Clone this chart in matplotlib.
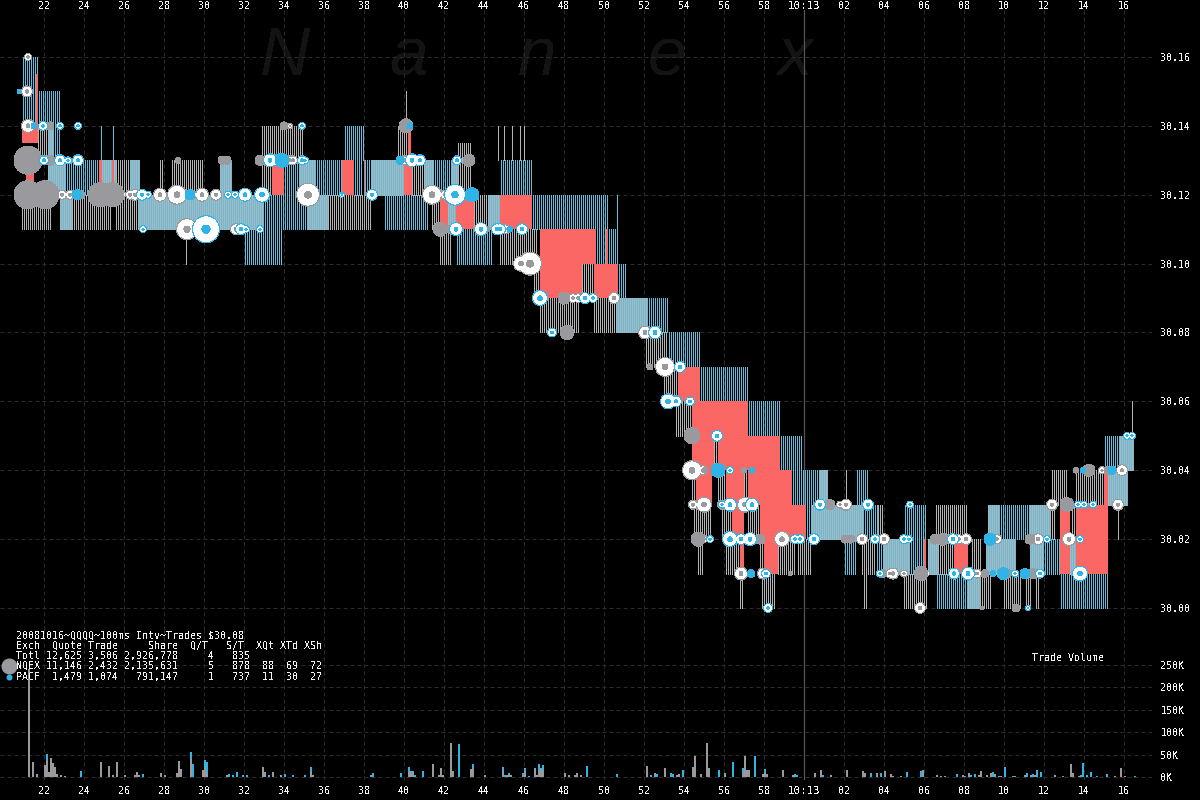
import matplotlib
matplotlib.use("Agg")
import matplotlib.pyplot as plt
import numpy as np

plt.rcParams["font.family"] = "DejaVu Sans Mono"
plt.rcParams["font.size"] = 7.2
plt.rcParams["text.antialiased"] = False

# quote bands: (second start, second end, low, high), price in cents above 30.00
gray_bands = [
    (20.9, 22.45, 11, 12), (21.7, 22.2, 13, 14), (23.45, 25.45, 11, 12), (25.55, 26.7, 11, 12),
    (25.5, 26.3, 12, 13), (28.45, 29.95, 12, 13), (27.8, 27.95, 12, 13), (32.9, 33.4, 12, 13),
    (32.9, 35.0, 13, 14), (36.15, 38.45, 11, 12), (39.7, 40.45, 13, 14), (40.4, 41.05, 12, 13),
    (42.7, 43.4, 12, 13.5), (41.4, 41.8, 11, 12), (41.8, 42.45, 10, 11), (43.5, 44.2, 11, 12),
    (44.8, 46.7, 10, 11), (48.9, 49.5, 9, 10), (46.5, 46.8, 9, 10), (46.8, 48.85, 8, 9),
    (49.5, 50.6, 8, 9), (52.1, 53.15, 7, 8), (53.0, 53.7, 6, 7), (53.6, 54.4, 5, 6),
    (54.4, 54.6, 3, 4), (55.7, 56.1, 3, 4), (57.0, 57.2, 3, 4), (55.5, 55.7, 4, 5),
    (54.5, 55.35, 2, 3), (55.9, 56.4, 2, 3), (57.2, 57.8, 2, 3), (54.7, 55.05, 1, 2),
    (56.1, 56.8, 1, 2), (57.8, 58.0, 1, 2), (58.7, 59.55, 1, 2), (59.7, 60.45, 1, 2),
    (56.8, 56.95, 0, 1), (57.9, 58.65, 0, 1), (62.1, 62.25, 3, 4), (63.7, 64.05, 2, 3),
    (62.9, 63.65, 1, 2), (63.0, 63.25, 0, 1), (65.0, 66.25, 0, 1), (66.6, 68.15, 2, 3),
    (66.7, 67.5, 1, 2), (68.4, 68.9, 1, 2), (68.8, 69.35, 0, 1), (70.0, 70.9, 0, 1),
    (71.1, 71.35, 0, 1), (71.6, 71.85, 0, 1), (72.3, 72.65, 2, 3), (73.35, 73.6, 2, 3),
    (72.4, 73.25, 3, 4), (73.6, 75.0, 3, 4), (29.1, 29.2, 10, 11), (75.7, 75.8, 2, 3),
    (76.4, 76.5, 5, 6), (40.1, 40.2, 14, 15), (44.7, 44.8, 13, 14), (45.0, 45.1, 13, 14),
    (45.4, 45.5, 13, 14), (45.8, 45.9, 13, 14), (46.0, 46.1, 13, 14),
]
blue_bands = [
    (20.9, 21.7, 14, 16), (21.7, 22.8, 14, 15), (22.3, 22.8, 13, 14), (23.1, 25.0, 12, 13),
    (24.8, 24.9, 13, 14), (25.4, 25.5, 13, 14), (33.0, 35.2, 11, 12), (32.05, 33.9, 10, 11),
    (33.95, 34.8, 12, 13), (35.65, 36.9, 12, 13), (37.5, 37.9, 12, 13), (38.05, 38.35, 12, 13),
    (41.5, 42.4, 12, 13), (36.95, 38.0, 13, 14), (39.05, 41.2, 11, 12), (42.65, 44.4, 10, 11),
    (44.75, 46.4, 12, 13), (46.4, 50.2, 11, 12), (50.6, 50.7, 11, 12), (49.6, 50.1, 10, 11),
    (50.2, 50.7, 10, 11), (50.7, 51.1, 9, 10), (52.2, 53.2, 8, 9), (53.15, 54.8, 7, 8),
    (54.8, 57.2, 6, 7), (57.2, 58.8, 5, 6), (58.8, 59.9, 4, 5), (59.4, 60.75, 3, 4),
    (60.1, 60.4, 2, 3), (62.05, 62.6, 1, 2), (62.65, 63.2, 3, 4), (62.95, 63.7, 2, 3),
    (63.65, 63.95, 1, 2), (64.95, 66.1, 2, 3), (65.3, 65.95, 1, 2), (66.65, 68.15, 0, 1),
    (69.8, 71.3, 2, 3), (72.0, 72.75, 1, 2), (72.75, 75.2, 0, 1), (75.0, 75.8, 4, 5),
]
mixed_bands = [
    (22.2, 22.5, 13, 14), (22.2, 23.1, 12, 13), (22.8, 23.4, 11, 12), (24.8, 25.55, 12, 13),
    (25.55, 25.6, 11, 12), (26.3, 26.8, 12, 13), (26.7, 31.2, 11, 12), (31.2, 33.0, 11, 12),
    (30.8, 31.45, 12, 13), (34.8, 35.65, 12, 13), (35.2, 36.15, 11, 12), (38.35, 40.0, 12, 13),
    (41.05, 41.5, 12, 13), (42.4, 42.7, 12, 13), (42.2, 42.6, 11, 12), (44.2, 44.8, 11, 12),
    (50.6, 52.2, 8, 9), (60.75, 61.25, 3, 4), (60.4, 63.0, 2, 3), (64.0, 65.3, 1, 2),
    (66.15, 66.7, 1, 2), (68.15, 68.8, 0, 1), (69.1, 70.55, 1, 2), (69.25, 69.8, 2, 3),
    (71.3, 72.3, 2, 3), (71.3, 72.0, 1, 2), (73.3, 73.6, 1, 2), (75.2, 76.2, 3, 4),
    (75.85, 76.5, 4, 5), (64.15, 64.25, 0, 1),
]
crossed_bands = [
    (21.6, 21.7, 14, 15.5), (20.9, 21.7, 13.5, 14), (21.1, 21.5, 12, 13), (24.75, 24.9, 12, 13),
    (25.4, 25.5, 12, 13), (33.4, 34.0, 12, 13), (36.9, 37.5, 12, 13), (38.0, 38.05, 12, 13),
    (40.0, 40.4, 12, 13), (40.2, 40.35, 13, 14), (41.8, 42.2, 11, 12), (42.6, 43.5, 11, 12),
    (44.8, 46.4, 11, 12), (46.8, 49.6, 10, 11), (50.1, 50.2, 10, 11), (46.8, 48.9, 9, 10),
    (49.5, 50.7, 9, 10), (53.7, 54.8, 6, 7), (54.4, 57.2, 5, 6), (54.4, 55.5, 4, 5),
    (55.7, 58.8, 4, 5), (54.6, 55.4, 3, 4), (56.1, 57.0, 3, 4), (57.2, 59.4, 3, 4),
    (56.4, 57.0, 2, 3), (57.8, 60.1, 2, 3), (56.8, 57.0, 1, 2), (58.0, 58.7, 1, 2),
    (66.0, 66.1, 1, 2), (67.5, 68.2, 1, 2), (72.8, 73.3, 2, 3), (73.6, 75.2, 2, 3),
    (75.0, 75.2, 3, 4), (72.8, 73.3, 1, 2), (73.6, 75.2, 1, 2),
]

# trades: (second, cents above 30.00, bubble radius in pixels)
gray_solid = [
    (21.2, 13, 14), (21.2, 12, 14), (22.05, 12, 14), (22.3, 14, 4), (22.3, 13, 5), (23.85, 12, 4),
    (24.8, 12, 12), (25.4, 12, 12), (28.7, 13, 3), (30.9, 13, 4), (31.15, 13, 4), (32.8, 13, 5),
    (34.0, 14, 4), (40.1, 14, 7), (43.25, 13, 6), (41.8, 11, 7), (42.3, 11, 4), (44.15, 11, 3),
    (48.0, 9, 6), (48.15, 8, 7), (52.3, 7, 3), (54.4, 5, 8), (55.05, 4, 3), (57.0, 4, 3),
    (54.7, 2, 7), (57.8, 2, 5), (59.3, 1, 2), (61.3, 3, 5), (62.05, 2, 4), (62.35, 2, 4),
    (63.95, 1, 4), (66.55, 2, 5), (66.95, 2, 6), (65.85, 1, 7), (69.05, 1, 4), (70.1, 1, 5),
    (71.45, 1, 5), (68.9, 0, 2), (70.6, 0, 4), (73.15, 3, 7), (73.6, 4, 3), (74.25, 4, 6),
    (75.2, 4, 4), (71.3, 2, 5),
]
gray_ring = [
    (21.2, 16, 3), (21.15, 15, 5), (21.2, 14, 6), (22.55, 12, 5), (22.9, 12, 4), (23.3, 12, 4),
    (25.9, 12, 3), (26.3, 12, 4), (26.55, 12, 5), (27.8, 12, 6), (28.65, 12, 9), (29.45, 12, 3),
    (29.9, 12, 6), (30.6, 12, 5), (34.3, 13, 4), (34.45, 13, 4), (34.3, 14, 2), (29.15, 11, 10),
    (31.6, 11, 5), (35.2, 12, 11), (40.05, 13, 4), (41.4, 12, 9), (42.05, 12, 4), (45.05, 11, 4),
    (45.85, 10, 7), (46.3, 10, 11), (48.45, 9, 4), (48.7, 9, 4), (50.5, 9, 5), (52.05, 8, 6),
    (53.05, 7, 9), (54.4, 4, 9), (54.95, 4, 4), (54.45, 3, 4), (55.0, 3, 7), (55.9, 3, 4),
    (57.05, 3, 7), (55.0, 2, 3), (58.9, 2, 7), (56.85, 1, 6), (57.95, 1, 5), (61.8, 3, 3),
    (62.1, 3, 5), (62.9, 2, 5), (64.0, 2, 5), (67.75, 2, 4), (68.1, 2, 5), (64.3, 1, 4),
    (64.45, 1, 5), (65.0, 1, 3), (66.15, 1, 2), (68.65, 1, 4), (65.8, 0, 5), (69.65, 2, 4),
    (71.7, 2, 5), (73.25, 2, 6), (72.4, 3, 5), (74.9, 4, 3), (75.9, 4, 5), (75.7, 3, 5),
]
blue_solid = [
    (20.75, 15, 2), (21.5, 14, 3), (23.65, 12, 5), (29.3, 12, 5), (33.9, 13, 7), (40.3, 14, 3),
    (39.8, 13, 4), (43.4, 12, 7), (45.3, 11, 3), (55.7, 4, 7), (57.35, 1, 4), (57.4, 4, 3),
    (69.45, 1, 3), (69.95, 1, 6), (71.05, 1, 5), (69.3, 2, 6), (73.95, 4, 3), (75.4, 4, 4),
]
blue_ring = [
    (21.95, 14, 4), (22.8, 14, 3), (23.7, 14, 3), (22.0, 13, 4), (23.2, 13, 3), (22.8, 13, 5),
    (23.7, 13, 5), (26.9, 12, 5), (27.2, 12, 3), (31.2, 12, 3), (31.55, 12, 3), (32.05, 12, 6),
    (32.9, 12, 7), (33.3, 13, 6), (33.65, 13, 5), (34.9, 14, 3), (34.9, 13, 4), (35.05, 13, 3),
    (26.95, 11, 3), (30.1, 11, 13), (31.85, 11, 5), (32.1, 11, 3), (32.8, 11, 3), (36.9, 12, 2),
    (38.4, 12, 5), (40.4, 13, 6), (40.8, 13, 5), (42.65, 13, 4), (42.55, 12, 10), (42.6, 11, 6),
    (43.85, 11, 6), (44.65, 11, 5), (44.8, 11, 5), (45.9, 11, 5), (46.8, 9, 7), (49.05, 9, 5),
    (49.45, 9, 4), (47.4, 8, 4), (52.55, 8, 6), (53.8, 7, 5), (53.2, 6, 7), (53.6, 6, 5),
    (54.3, 6, 4), (55.65, 5, 5), (56.3, 4, 3), (55.9, 3, 3), (56.3, 3, 6), (57.4, 3, 6),
    (55.3, 2, 3), (56.3, 2, 7), (56.85, 2, 5), (57.3, 2, 6), (59.55, 2, 4), (59.8, 2, 4),
    (60.5, 2, 5), (58.1, 1, 4), (58.2, 0, 4), (60.8, 3, 5), (63.2, 3, 5), (65.3, 3, 3),
    (63.55, 2, 4), (65.0, 2, 4), (65.25, 2, 3), (67.45, 2, 5), (63.8, 1, 3), (67.5, 1, 5),
    (68.2, 1, 6), (70.55, 1, 3), (71.8, 1, 4), (73.8, 1, 7), (72.15, 2, 3), (73.8, 2, 3),
    (71.2, 0, 2), (73.7, 3, 3), (74.0, 3, 3), (74.45, 3, 3), (76.15, 5, 3), (76.4, 5, 3),
]

# trade volume per 100ms, thousands of shares
gray_volume = {
    21.2: 240, 21.4: 33, 21.6: 7, 22.0: 27, 22.1: 38, 22.2: 11, 22.3: 43, 22.4: 31, 22.5: 22, 22.6: 7,
    22.8: 5, 23.0: 3, 24.8: 33, 25.2: 25, 25.4: 5, 25.6: 33, 26.0: 5, 26.5: 5, 26.6: 11, 26.7: 5,
    27.8: 9, 28.0: 4, 28.6: 8, 28.7: 35, 28.8: 18, 29.3: 40, 29.9: 15, 30.0: 22, 30.1: 8, 31.1: 4,
    32.9: 22, 33.0: 11, 33.4: 11, 33.8: 4, 35.3: 13, 35.4: 5, 37.0: 1, 38.3: 4, 40.2: 11, 40.3: 11,
    40.4: 11, 41.4: 28, 41.7: 4, 41.8: 21, 41.9: 4, 42.3: 75, 42.4: 13, 43.3: 17, 43.4: 17, 44.0: 4,
    44.9: 13, 45.1: 4, 45.2: 4, 45.3: 4, 45.9: 5, 46.0: 14, 46.5: 20, 46.6: 4, 46.7: 13, 46.8: 19,
    46.9: 15, 48.0: 8, 48.2: 4, 48.5: 5, 48.6: 10, 48.8: 5, 48.9: 1, 49.6: 1, 50.4: 1, 52.1: 24,
    52.5: 8, 53.0: 19, 53.6: 4, 53.7: 6, 54.4: 21, 54.5: 46, 54.8: 6, 55.1: 75, 55.2: 19, 55.5: 1,
    56.0: 8, 56.1: 1, 56.9: 8, 57.0: 46, 57.1: 15, 57.2: 15, 57.6: 1, 57.9: 6, 58.0: 12, 58.1: 6,
    58.7: 1, 58.9: 15, 59.3: 1, 59.4: 4, 60.3: 1, 60.5: 8, 60.8: 15, 61.3: 4, 61.9: 1, 62.1: 15,
    62.9: 13, 63.0: 10, 63.6: 10, 64.0: 13, 64.3: 6, 64.4: 2, 64.8: 2, 65.3: 1, 65.5: 1, 65.9: 15,
    66.1: 1, 66.6: 4, 67.0: 2, 67.9: 4, 68.2: 9, 68.7: 4, 68.8: 13, 69.1: 4, 69.3: 9, 69.5: 6,
    69.8: 2, 70.5: 2, 71.0: 4, 71.3: 4, 71.5: 4, 72.2: 1, 72.5: 4, 72.8: 1, 72.9: 2, 73.3: 29,
    73.4: 9, 73.7: 2, 75.1: 2, 75.5: 2, 75.8: 20, 76.0: 2,
}
blue_volume = {
    20.9: 1, 22.1: 13, 23.8: 13, 26.9: 7, 29.3: 16, 29.4: 30, 30.0: 17, 30.1: 26, 31.2: 7, 31.4: 4,
    31.6: 11, 31.9: 4, 32.1: 4, 33.2: 4, 34.0: 7, 34.4: 5, 35.0: 5, 35.3: 10, 38.4: 10, 39.8: 8,
    40.2: 12, 40.3: 2, 40.4: 3, 40.5: 5, 40.9: 13, 42.7: 73, 43.4: 11, 43.8: 1, 44.3: 1, 44.9: 9,
    45.0: 5, 45.2: 4, 45.4: 1, 45.9: 3, 46.0: 5, 46.2: 3, 46.7: 17, 46.8: 1, 46.9: 11, 47.5: 1,
    49.1: 24, 50.6: 6, 52.3: 4, 52.6: 6, 53.3: 10, 53.4: 6, 53.9: 15, 54.4: 1, 55.7: 15, 56.4: 33,
    56.9: 11, 57.5: 46, 58.0: 5, 58.2: 1, 59.5: 6, 59.6: 4, 60.6: 1, 60.9: 4, 61.1: 1, 63.3: 8,
    63.8: 8, 65.1: 11, 65.8: 13, 66.8: 2, 67.6: 7, 68.0: 2, 68.3: 4, 68.5: 7, 69.4: 11, 69.7: 2,
    70.0: 22, 70.4: 2, 71.1: 9, 71.4: 7, 71.6: 15, 71.8: 11, 73.8: 4, 73.9: 31, 74.1: 4, 74.3: 11,
    74.6: 2, 75.1: 4, 76.3: 1, 76.5: 2,
}

x_ticks = np.arange(22, 78, 2)
x_labels = ["22", "24", "26", "28", "30", "32", "34", "36", "38", "40", "42", "44", "46", "48", "50",
            "52", "54", "56", "58", "10:13", "02", "04", "06", "08", "10", "12", "14", "16"]
price_ticks = [30.00, 30.02, 30.04, 30.06, 30.08, 30.10, 30.12, 30.14, 30.16]
volume_ticks = [0, 50, 100, 150, 200, 250]

summary_lines = [
    "20081016~QQQQ~100ms Intv~Trades $30.08",
    "Exch  Quote Trade     Share  Q/T   S/T  XQt XTd XSh",
    "Totl 12,625 3,506 2,926,778     4   835",
    "NQEX 11,146 2,432 2,135,631     5   878  88  69  72",
    "PACF  1,479 1,074   791,147     1   737  11  30  27",
]
summary_rows = [635, 646, 656, 666, 677]
watermark = ["N", "a", "n", "e", "x"]
watermark_x = [260, 390, 518, 648, 778]

GRAY = "#9a999e"
BLUE = "#2fb4e8"
STRIPE_GRAY = "#b4b4b4"
STRIPE_BLUE = "#62bede"
RED = "#fa6765"
GRID = "#2c2c2c"
TEXT = "#f4f4f4"


def px_axes(top, bottom):
    return [0, 1 - bottom / 800, 1152 / 1200, (bottom - top) / 800]


def draw_stripes(ax, bands, color, shift):
    for start, end, low, high in bands:
        xs = np.arange(round(start * 10), round(end * 10)) / 10 + shift
        ax.vlines(xs, 30 + low / 100, 30 + high / 100, colors=color, linewidth=0.72,
                  antialiased=False, zorder=2)


def draw_bubbles(ax, trades, color, ring):
    t = np.array([row[0] for row in trades])
    y = 30 + np.array([row[1] for row in trades]) / 100
    r = np.array([row[2] for row in trades], dtype=float)
    if ring:
        r = r + 0.5
    ax.scatter(t, y, s=(2 * r * 0.72) ** 2, c=color, linewidths=0, antialiased=False, zorder=3)
    if ring:
        white = np.maximum(r - 1.2, 0.8)
        centre = np.maximum(0.3 * r, 0.8)
        ax.scatter(t, y, s=(2 * white * 0.72) ** 2, c="white", linewidths=0, antialiased=False, zorder=3)
        ax.scatter(t, y, s=(2 * centre * 0.72) ** 2, c=color, linewidths=0, antialiased=False, zorder=3)


fig = plt.figure(figsize=(12, 8), dpi=100, facecolor="black")
ax = fig.add_axes(px_axes(10, 630), facecolor="black")
vol = fig.add_axes(px_axes(630, 780), facecolor="none")

for a in (ax, vol):
    a.set_xlim(19.8, 77.4)
    a.set_xticks(x_ticks)
    for side in a.spines:
        a.spines[side].set_visible(False)
    a.grid(True, color=GRID, linewidth=0.72, linestyle=(0, (4, 3)))
    a.set_axisbelow(True)
    a.axvline(60, color="#555555", linewidth=0.9, zorder=1)
    a.yaxis.tick_right()
    a.tick_params(length=0, colors=TEXT, labelsize=7.2)

# price panel
ax.set_ylim(30 - 22 / 3444, 30.16 + 47 / 3444)
ax.set_yticks(price_ticks)
ax.set_yticklabels(["%.2f" % p for p in price_ticks])
ax.tick_params(axis="y", pad=6)
ax.xaxis.tick_top()
ax.set_xticklabels(x_labels)
ax.tick_params(axis="x", pad=-1)

draw_stripes(ax, gray_bands + mixed_bands, STRIPE_GRAY, 0.0)
draw_stripes(ax, blue_bands + mixed_bands, STRIPE_BLUE, 0.05)
for start, end, low, high in crossed_bands:
    ax.bar(start, (high - low) / 100, width=end - start, bottom=30 + low / 100, align="edge",
           color=RED, linewidth=0, antialiased=False, zorder=2.5)

draw_bubbles(ax, gray_ring, GRAY, True)
draw_bubbles(ax, gray_solid, GRAY, False)
draw_bubbles(ax, blue_ring, BLUE, True)
draw_bubbles(ax, blue_solid, BLUE, False)

for letter, px in zip(watermark, watermark_x):
    ax.text(px / 1200, 1 - 75 / 800, letter, transform=fig.transFigure, family="Liberation Sans",
            style="italic", fontsize=50, color="#131313", zorder=0.5)

# volume panel
vol.set_ylim(-3 / 22.4 * 50, 147 / 22.4 * 50)
vol.set_yticks(volume_ticks)
vol.set_yticklabels(["%dK" % v for v in volume_ticks])
vol.tick_params(axis="y", pad=6)
vol.set_xticklabels(x_labels)
vol.tick_params(axis="x", pad=4)
for label in vol.get_xticklabels() + ax.get_xticklabels():
    if label.get_text() == "10:13":
        label.set_fontsize(7.8)

gray_t = sorted(gray_volume)
blue_t = sorted(blue_volume)
vol.bar(gray_t, [gray_volume[t] for t in gray_t], width=0.1, align="edge", color=GRAY,
        linewidth=0, antialiased=False, zorder=2)
vol.bar(blue_t, [blue_volume[t] for t in blue_t], width=0.1, align="edge", color=BLUE,
        bottom=[gray_volume.get(t, 0) for t in blue_t], linewidth=0, antialiased=False, zorder=2)

# legend bubbles next to the summary table
vol.scatter([20.25], [248], s=(16 * 0.72) ** 2, c=GRAY, linewidths=0, antialiased=False, zorder=3)
vol.scatter([20.25], [223], s=(6 * 0.72) ** 2, c=BLUE, linewidths=0, antialiased=False, zorder=3)

for line, row in zip(summary_lines, summary_rows):
    fig.text(16 / 1200, 1 - row / 800, line, color=TEXT, va="center", ha="left", fontsize=7.2)
fig.text(1032 / 1200, 1 - 658 / 800, "Trade Volume", color=TEXT, va="center", ha="left", fontsize=7.2)

fig.savefig("out.png", dpi=100, facecolor="black")
